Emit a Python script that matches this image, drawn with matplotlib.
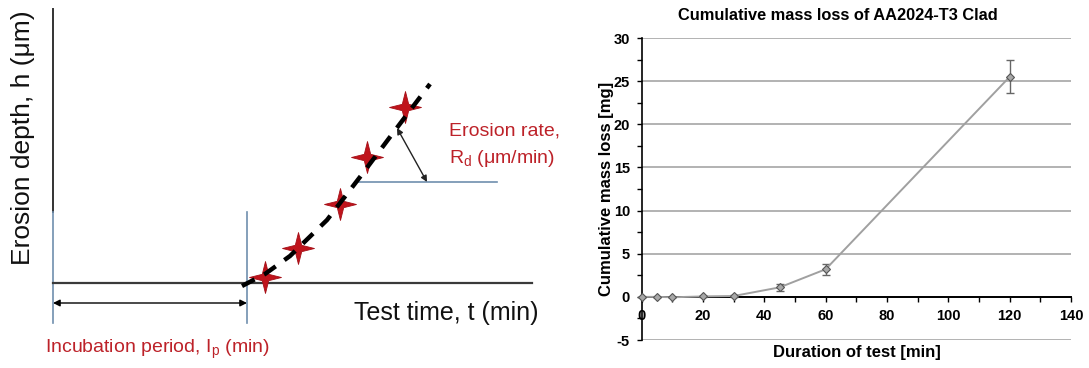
import matplotlib
matplotlib.use("Agg")
import matplotlib.pyplot as plt
from matplotlib.path import Path
from matplotlib.ticker import MultipleLocator

plt.rcParams['font.family'] = ['Liberation Sans', 'DejaVu Sans']
plt.rcParams['axes.unicode_minus'] = False

# ---- Datos: esquema (unidades de dibujo del esquema) ----
star_t = [265, 298, 340, 367, 405]
star_h = [277, 248, 204, 157, 107]
trend_t = [242, 265, 290, 327, 360, 390, 430]
trend_h = [286, 274, 256, 220, 177, 137, 84]
axis_t0, axis_t1 = 53, 532
axis_h0, axis_top, axis_bottom = 283, 9, 323
incub_t = 247
rate_h, rate_t0, rate_t1 = 182, 358, 497

# ---- Datos: perdida de masa acumulada ----
duration = [0, 5, 10, 20, 30, 45, 60, 120]
mass_loss = [0, 0, -0.05, 0.05, 0.1, 1.1, 3.2, 25.5]
mass_err = [0, 0, 0, 0.1, 0.15, 0.4, 0.65, 1.9]
x_ticks = [0, 20, 40, 60, 80, 100, 120, 140]
y_ticks = [-5, 0, 5, 10, 15, 20, 25, 30]

red = '#bd2229'
blue = '#6f8fae'

fig = plt.figure(figsize=(10.89, 3.68), dpi=100)

# ====================================================================================
# Panel izquierdo: esquema de la curva de erosion
ax0 = fig.add_axes([0, 0, 560 / 1089, 1])
ax0.set_xlim(0, 560)
ax0.set_ylim(368, 0)
ax0.axis('off')

ax0.plot([axis_t0, axis_t0], [axis_top, 212], color='#333333', lw=1.4)
ax0.plot([axis_t0, axis_t0], [212, axis_bottom], color=blue, lw=1.2)
ax0.plot([axis_t0, axis_t1], [axis_h0, axis_h0], color='#3a3a3a', lw=1.6)
ax0.plot([incub_t, incub_t], [212, axis_bottom], color=blue, lw=1.2)
ax0.plot([rate_t0, rate_t1], [rate_h, rate_h], color=blue, lw=1.2)

ax0.annotate('', xy=(axis_t0, 303), xytext=(incub_t, 303),
             arrowprops=dict(arrowstyle='<|-|>', color='black', lw=1, mutation_scale=10,
                             shrinkA=0, shrinkB=0))
ax0.annotate('', xy=(397, 128), xytext=(427, 182),
             arrowprops=dict(arrowstyle='<|-|>', color='#222222', lw=1, mutation_scale=9,
                             shrinkA=0, shrinkB=0))

# estrella de 4 puntas para las mediciones
star = Path([(0, 1), (0.2, 0.2), (1, 0), (0.2, -0.2), (0, -1), (-0.2, -0.2),
             (-1, 0), (-0.2, 0.2), (0, 1)],
            [Path.MOVETO] + [Path.LINETO] * 7 + [Path.CLOSEPOLY])
ax0.plot(star_t, star_h, ls='none', marker=star, ms=23, mfc='#c0141c', mec='#a51018',
         mew=0.6, zorder=3)
ax0.plot(trend_t, trend_h, color='black', lw=3.2, ls=(0, (3.2, 2.4)), zorder=4)

ax0.text(23, 138, 'Erosion depth, h (μm)', rotation=90, ha='center', va='center',
         fontsize=19, color='#111111')
ax0.text(354, 320, 'Test time, t (min)', ha='left', va='baseline', fontsize=18, color='#111111')
ax0.text(45, 353, r'Incubation period, I$_\mathregular{p}$ (min)', ha='left', va='baseline',
         fontsize=14, color=red)
ax0.text(449, 136, 'Erosion rate,', ha='left', va='baseline', fontsize=14, color=red)
ax0.text(449, 163, r'R$_\mathregular{d}$ (μm/min)', ha='left', va='baseline', fontsize=14, color=red)

# ====================================================================================
# Panel derecho: perdida de masa acumulada
ax = fig.add_axes([641.7 / 1089, 28 / 368, 429.3 / 1089, 302 / 368])
ax.set_xlim(0, 140)
ax.set_ylim(-5, 30)

ax.errorbar(duration, mass_loss, yerr=mass_err, fmt='none', ecolor='#666666',
            elinewidth=1, capsize=3, capthick=1, zorder=3, clip_on=False)
ax.plot(duration, mass_loss, color='#a0a0a0', lw=1.4, marker='D', ms=4.5,
        mfc='#a8a8a8', mec='#555555', mew=0.8, zorder=4, clip_on=False)

ax.spines['top'].set_visible(False)
ax.spines['right'].set_visible(False)
ax.spines['bottom'].set_position(('data', 0))
ax.spines['bottom'].set_linewidth(1.4)
ax.spines['left'].set_linewidth(1.2)

ax.set_xticks(x_ticks)
ax.set_yticks(y_ticks)
ax.xaxis.set_minor_locator(MultipleLocator(10))
ax.yaxis.set_minor_locator(MultipleLocator(2.5))
ax.tick_params(axis='both', which='both', direction='out', length=3.5, width=1, labelsize=10.5)
ax.tick_params(axis='x', pad=5)
ax.tick_params(axis='y', pad=5)
for lbl in ax.get_xticklabels() + ax.get_yticklabels():
    lbl.set_fontweight('bold')

ax.yaxis.grid(True, color='#a6a6a6', lw=1.2)
ax.set_axisbelow(True)

fig.text(838 / 1089, 1 - 15 / 368, 'Cumulative mass loss of AA2024-T3 Clad', ha='center',
         va='center', fontsize=11.8, fontweight='bold')
fig.text(607 / 1089, 1 - 189 / 368, 'Cumulative mass loss [mg]', rotation=90, ha='center',
         va='center', fontsize=12, fontweight='bold')
fig.text(857 / 1089, 1 - 352 / 368, 'Duration of test [min]', ha='center', va='center',
         fontsize=12, fontweight='bold')

fig.savefig('out.png', dpi=100)
